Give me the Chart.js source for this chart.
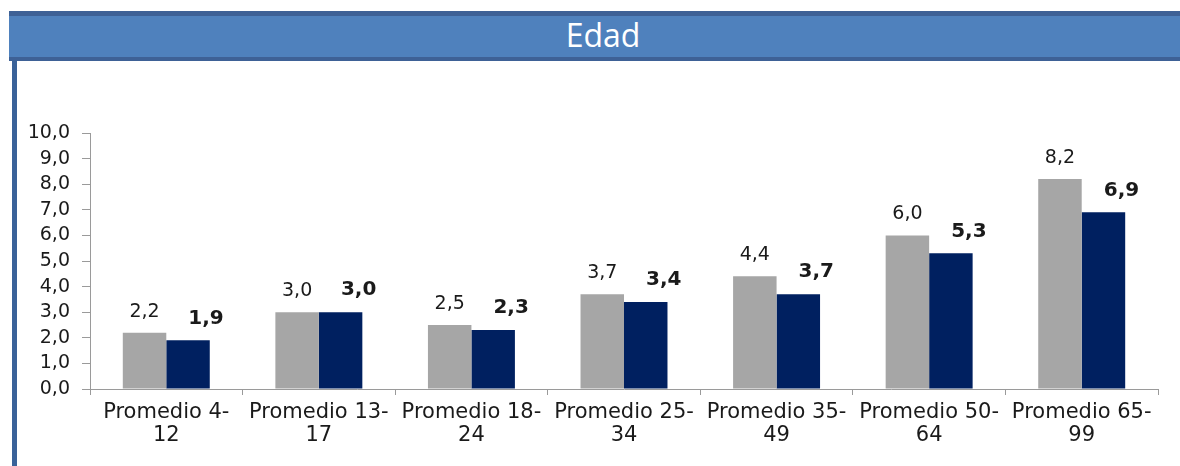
<!DOCTYPE html>
<html>
<head>
<meta charset="utf-8">
<script src="https://cdn.jsdelivr.net/npm/chart.js@4.4.1/dist/chart.umd.min.js"></script>
<style>
  html, body { margin: 0; padding: 0; background: #fff; overflow: hidden; }
  body { width: 1180px; height: 466px; position: relative; }
  .title {
    position: absolute; left: 9px; top: 11px; width: 1188px; height: 41px;
    background: #4f81bd; border-top: 5px solid #3e6196; border-bottom: 4px solid #3e6196;
    color: #fff; font-family: "Open Sans", sans-serif; font-size: 32px;
    line-height: 37px; text-align: center;
  }
  .rule { position: absolute; left: 12px; top: 60px; width: 5px; height: 406px; background: #3a6299; }
  .wrap { position: absolute; left: 18px; top: 62px; width: 1162px; height: 404px; }
</style>
</head>
<body>
<div class="title">Edad</div>
<div class="rule"></div>
<div class="wrap"><canvas id="chart"></canvas></div>
<script>
const categories = [
  ["Promedio 4-", "12"],
  ["Promedio 13-", "17"],
  ["Promedio 18-", "24"],
  ["Promedio 25-", "34"],
  ["Promedio 35-", "49"],
  ["Promedio 50-", "64"],
  ["Promedio 65-", "99"]
];
const seriesA = [2.2, 3.0, 2.5, 3.7, 4.4, 6.0, 8.2];
const seriesB = [1.9, 3.0, 2.3, 3.4, 3.7, 5.3, 6.9];

const fmt = (v) => v.toFixed(1).replace(".", ",");

// value labels above bars; second series bold and nudged right
const barLabels = {
  id: "barLabels",
  afterDatasetsDraw(chart) {
    const ctx = chart.ctx;
    chart.data.datasets.forEach((ds, i) => {
      const meta = chart.getDatasetMeta(i);
      ctx.save();
      ctx.fillStyle = "#1a1a1a";
      ctx.textAlign = "center";
      ctx.textBaseline = "middle";
      ctx.font = (i === 1 ? "bold 20px" : "19px") + " 'DejaVu Sans', sans-serif";
      meta.data.forEach((bar, j) => {
        const dx = i === 1 ? 18 : 0;
        const dy = i === 1 ? 22 : 21;
        ctx.fillText(fmt(ds.data[j]), bar.x + dx, bar.y - dy);
      });
      ctx.restore();
    });
  }
};

new Chart(document.getElementById("chart"), {
  type: "bar",
  data: {
    labels: categories,
    datasets: [
      { data: seriesA, backgroundColor: "#a6a6a6", categoryPercentage: 0.57, barPercentage: 1 },
      { data: seriesB, backgroundColor: "#002060", categoryPercentage: 0.57, barPercentage: 1 }
    ]
  },
  options: {
    responsive: true,
    maintainAspectRatio: false,
    animation: false,
    layout: { padding: { top: 71, right: 22, bottom: 0, left: 0 } },
    plugins: { legend: { display: false }, tooltip: { enabled: false } },
    scales: {
      x: {
        afterFit: (s) => { s.height = 77; },
        grid: { drawOnChartArea: false, drawTicks: true, tickLength: 6, color: "#9a9a9a", offset: true },
        border: { color: "#9a9a9a" },
        ticks: {
          color: "#1a1a1a",
          padding: 7,
          font: { family: "'DejaVu Sans', sans-serif", size: 21, lineHeight: 1.05 }
        }
      },
      y: {
        min: 0,
        max: 10,
        afterFit: (s) => { s.width = 72; },
        grid: { drawOnChartArea: false, drawTicks: true, tickLength: 8, color: "#9a9a9a" },
        border: { color: "#9a9a9a" },
        ticks: {
          stepSize: 1,
          autoSkip: false,
          color: "#1a1a1a",
          padding: 12,
          callback: (v) => fmt(v),
          font: { family: "'DejaVu Sans', sans-serif", size: 19, lineHeight: 1 }
        }
      }
    }
  },
  plugins: [barLabels]
});
</script>
</body>
</html>
